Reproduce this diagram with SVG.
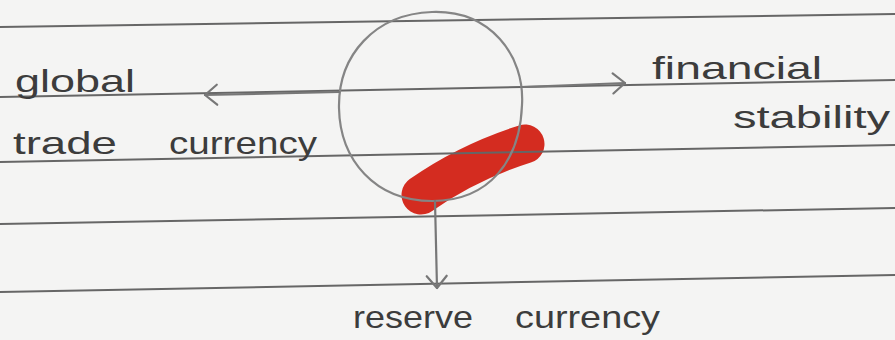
<svg xmlns="http://www.w3.org/2000/svg" width="895" height="340" viewBox="0 0 895 340">
<style>
.rule{stroke:#666;stroke-width:2;fill:none}
.ink{font-family:"Liberation Sans","DejaVu Sans",sans-serif;fill:#3c3c3c;font-size:32px}
.conn{stroke:#777;stroke-width:2.2;fill:none;stroke-linecap:round}
</style>
<defs>
<marker id="chev" viewBox="0 0 16 24" markerWidth="16" markerHeight="24" refX="14" refY="12" orient="auto" markerUnits="userSpaceOnUse">
<path d="M2,2 L14,12 L2,22" fill="none" stroke="#777" stroke-width="2.2" stroke-linecap="round" stroke-linejoin="round"/>
</marker>
</defs>
<rect width="895" height="340" fill="#f4f4f3"/>
<path d="M421,195 Q468,162 525,144" stroke="#d42c20" stroke-width="39" stroke-linecap="round" fill="none"/>
<g id="rules">
<line class="rule" x1="0" y1="27" x2="895" y2="14"/>
<line class="rule" x1="0" y1="97" x2="895" y2="80"/>
<line class="rule" x1="0" y1="162" x2="895" y2="145"/>
<line class="rule" x1="0" y1="224" x2="895" y2="208"/>
<line class="rule" x1="0" y1="292" x2="895" y2="275"/>
</g>
<g id="center">
<path d="M432,12 C490,10 525,55 522,105 C520,160 490,201 432,201 C375,201 340,160 339,108 C338,55 375,14 432,12 Z" fill="none" stroke="#858585" stroke-width="2.2"/>
</g>
<g id="connectors">
<line class="conn" x1="339" y1="92" x2="205" y2="95" marker-end="url(#chev)"/>
<line class="conn" x1="522" y1="87" x2="625" y2="83" marker-end="url(#chev)"/>
<line class="conn" x1="435" y1="201" x2="437" y2="288" marker-end="url(#chev)"/>
</g>
<g id="global-trade-currency">
<text class="ink" x="15" y="92" textLength="120" lengthAdjust="spacingAndGlyphs">global</text>
<text class="ink" y="154"><tspan x="13" textLength="104" lengthAdjust="spacingAndGlyphs">trade</tspan><tspan x="169" textLength="148" lengthAdjust="spacingAndGlyphs">currency</tspan></text>
</g>
<g id="financial-stability">
<text class="ink" x="652" y="79" textLength="170" lengthAdjust="spacingAndGlyphs">financial</text>
<text class="ink" x="733" y="128" textLength="157" lengthAdjust="spacingAndGlyphs">stability</text>
</g>
<g id="reserve-currency">
<text class="ink" y="328" font-size="30"><tspan x="353" textLength="120" lengthAdjust="spacingAndGlyphs">reserve</tspan><tspan x="515" textLength="145" lengthAdjust="spacingAndGlyphs">currency</tspan></text>
</g>
</svg>
